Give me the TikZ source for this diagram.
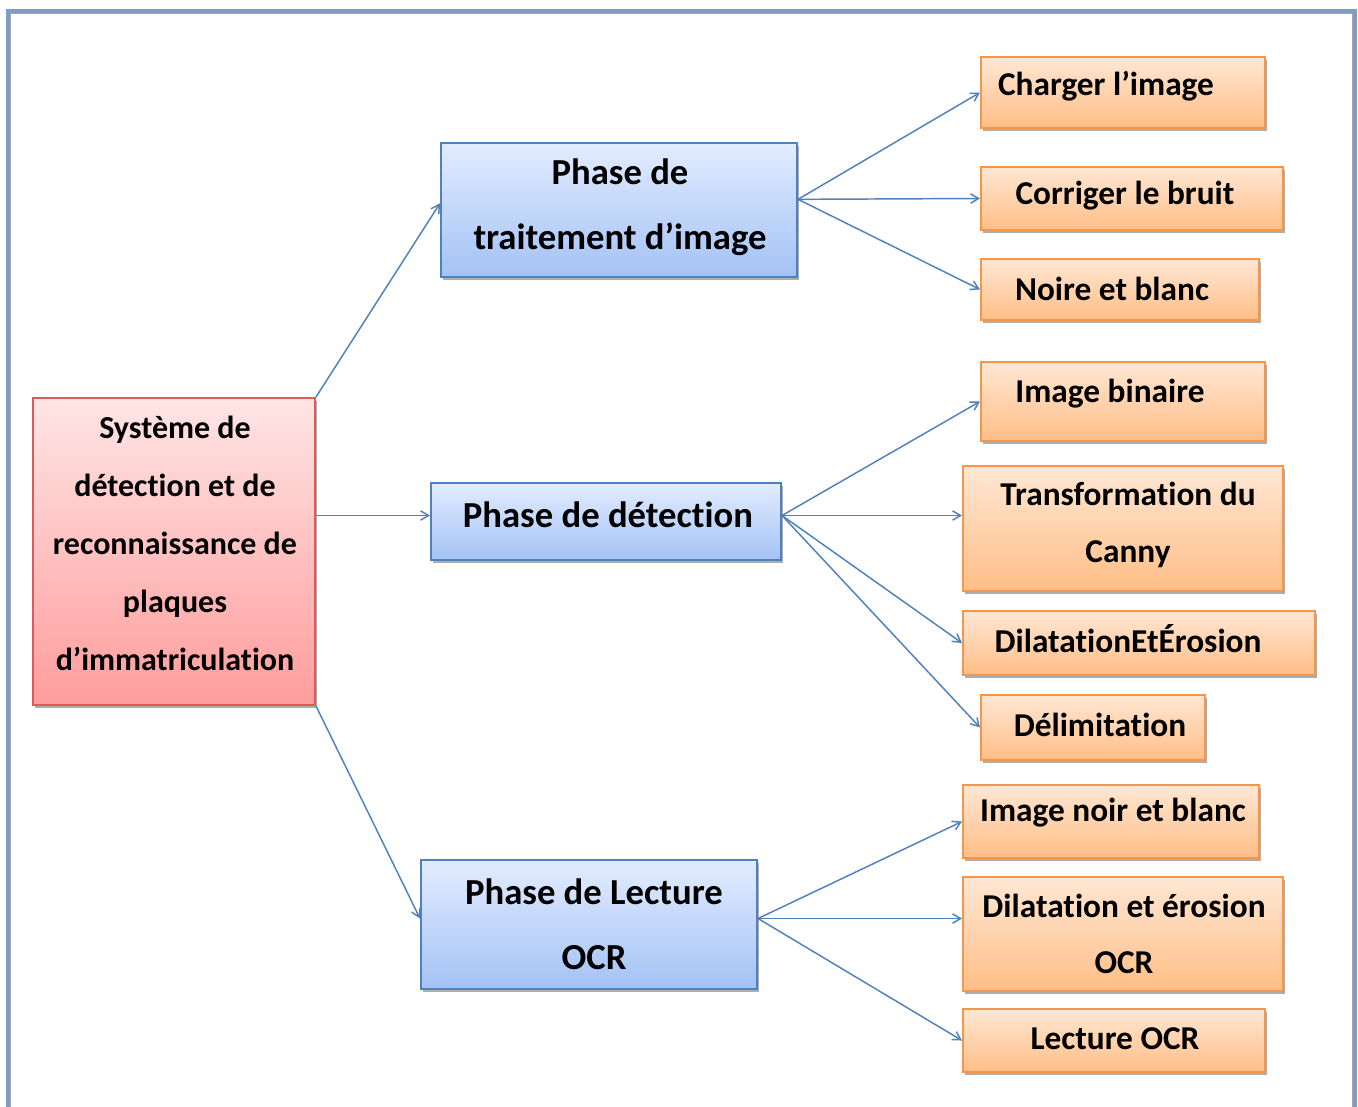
\documentclass[tikz,border=0pt]{standalone}
\usepackage{fontspec}
\setmainfont{Carlito}[Ligatures=NoCommon]
\definecolor{framec}{RGB}{127,156,200}
\definecolor{sysred}{RGB}{222,90,90}
\definecolor{systop}{RGB}{255,229,229}
\definecolor{sysbot}{RGB}{255,156,156}
\definecolor{phaseblue}{RGB}{79,129,189}
\definecolor{phasetop}{RGB}{226,236,255}
\definecolor{phasebot}{RGB}{164,194,245}
\definecolor{taskorange}{RGB}{247,150,70}
\definecolor{tasktop}{RGB}{255,231,212}
\definecolor{taskbot}{RGB}{255,190,134}
\usetikzlibrary{arrows.meta, shadows}

\begin{document}
\begin{tikzpicture}[x=0.75pt, y=-0.75pt,
  boxshadow/.style={drop shadow={shadow xshift=1.5pt, shadow yshift=-2pt, fill=black!40, opacity=0.8}},
  sysbox/.style={draw=sysred, line width=1.5pt, top color=systop, bottom color=sysbot, boxshadow, inner sep=0pt},
  phasebox/.style={draw=phaseblue, line width=1.5pt, top color=phasetop, bottom color=phasebot, boxshadow, inner sep=0pt},
  taskbox/.style={draw=taskorange, line width=1.5pt, top color=tasktop, bottom color=taskbot, boxshadow, inner sep=0pt},
  systxt/.style={font=\fontsize{24}{43.5}\selectfont\bfseries, align=center, inner sep=0pt},
  phasetxt/.style={font=\fontsize{27.5}{48.5}\selectfont\bfseries, align=center, inner sep=0pt},
  tasktxt/.style={font=\fontsize{25}{42.5}\selectfont\bfseries, align=center, inner sep=0pt},
  arr/.style={-{Straight Barb[length=6pt, width=7pt]}, line width=1.1pt, draw=phaseblue}]
  \useasboundingbox (0,0) rectangle (1358,1106);

  % Frame
  \draw[line width=2.5pt, framec] (8,11) rectangle (1355,1140);
  \draw[line width=0.8pt, black!35] (10.5,13.5) rectangle (1352.5,1140);

  % Main system box
  \node[sysbox, minimum width=211.5pt, minimum height=230.25pt] (root) at (174,551.5) {};
  \node[systxt] (root-t) at (175,543) {Système de\\détection et de\\reconnaissance de\\plaques\\d’immatriculation};

  % Phases
  \node[phasebox, minimum width=267pt, minimum height=100.5pt] (p1) at (619,210) {};
  \node[phasebox, minimum width=262.5pt, minimum height=57.75pt] (p2) at (606,521.5) {};
  \node[phasebox, minimum width=252pt, minimum height=96.75pt] (p3) at (589,924.5) {};
  \node[phasetxt] (p1-t) at (620,207) {Phase de\\traitement d’image};
  \node[phasetxt] (p2-t) at (608,515) {Phase de détection};
  \node[phasetxt] (p3-t) at (594,924) {Phase de Lecture\\OCR};

  % Tasks, phase 1
  \node[taskbox, minimum width=213pt, minimum height=53.25pt] (charger) at (1123,92.5) {};
  \node[taskbox, minimum width=226.5pt, minimum height=47.25pt] (corriger) at (1132,198.5) {};
  \node[taskbox, minimum width=208.5pt, minimum height=45.75pt] (noire) at (1120,289.5) {};
  \node[tasktxt] (charger-t) at (1106,86) {Charger l’image};
  \node[tasktxt] (corriger-t) at (1125,196) {Corriger le bruit};
  \node[tasktxt] (noire-t) at (1112,289) {Noire et blanc};

  % Tasks, phase 2
  \node[taskbox, minimum width=213pt, minimum height=59.25pt] (binaire) at (1123,401.5) {};
  \node[taskbox, minimum width=240pt, minimum height=93.75pt] (canny) at (1123,528.5) {};
  \node[taskbox, minimum width=264pt, minimum height=48pt] (dilero) at (1139,643) {};
  \node[taskbox, minimum width=168pt, minimum height=48.75pt] (delim) at (1093,727.5) {};
  \node[tasktxt] (binaire-t) at (1110,394) {Image binaire};
  \node[tasktxt] (canny-t) at (1128,525) {Transformation du\\Canny};
  \node[tasktxt] (dilero-t) at (1128,639) {DilatationEtÉrosion};
  \node[tasktxt] (delim-t) at (1100,725) {Délimitation};

  % Tasks, phase 3
  \node[taskbox, minimum width=222pt, minimum height=54.75pt] (noirblanc) at (1111,821.5) {};
  \node[taskbox, minimum width=240pt, minimum height=85.5pt] (dilocr) at (1123,934) {};
  \node[taskbox, minimum width=226.5pt, minimum height=47.25pt] (lecture) at (1114,1040.5) {};
  \node[tasktxt] (noirblanc-t) at (1113,813) {Image noir et blanc};
  \node[tasktxt] (dilocr-t) at (1124,934) {Dilatation et érosion\\OCR};
  \node[tasktxt] (lecture-t) at (1115,1039) {Lecture OCR};

  % Connectors
  \draw[arr] (root.north east) -- ([yshift=5pt]p1.west);
  \draw[arr] ([yshift=4.5pt]p2.west -| root.east) -- ([yshift=4.5pt]p2.west);
  \draw[arr] (root.south east) -- ([yshift=4.5pt]p3.west);

  \draw[arr] ([yshift=8pt]p1.east) -- (charger.west);
  \draw[arr] ([yshift=8pt]p1.east) -- (corriger.west);
  \draw[arr] ([yshift=8pt]p1.east) -- (noire.west);

  \draw[arr] ([yshift=4.5pt]p2.east) -- (binaire.west);
  \draw[arr] ([yshift=4.5pt]p2.east) -- ([yshift=4.5pt]p2.east -| canny.west);
  \draw[arr] ([yshift=4.5pt]p2.east) -- (dilero.west);
  \draw[arr] ([yshift=4.5pt]p2.east) -- (delim.west);

  \draw[arr] ([yshift=4.5pt]p3.east) -- (noirblanc.west);
  \draw[arr] ([yshift=4.5pt]p3.east) -- ([yshift=4.5pt]p3.east -| dilocr.west);
  \draw[arr] ([yshift=4.5pt]p3.east) -- (lecture.west);
\end{tikzpicture}
\end{document}
